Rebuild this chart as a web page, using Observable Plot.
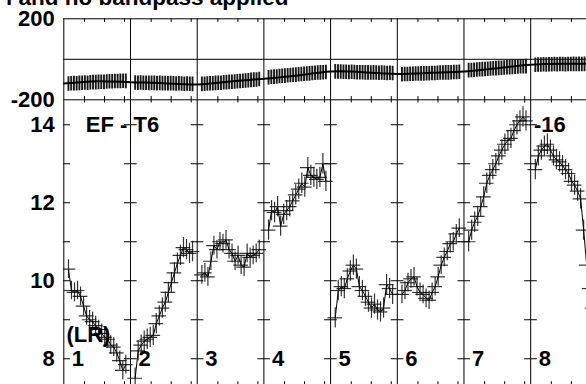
<!DOCTYPE html>
<html><head><meta charset="utf-8">
<script src="https://cdn.jsdelivr.net/npm/d3@7"></script>
<script src="https://cdn.jsdelivr.net/npm/@observablehq/plot@0.6"></script>
<style>
body{margin:0;width:586px;height:384px;overflow:hidden;position:relative;background:#fff;font-family:"Liberation Sans",Arial,sans-serif;}
#title{position:absolute;left:6px;top:-13px;font-weight:bold;font-size:22.5px;line-height:22px;white-space:nowrap;color:#000;}
.layer{position:absolute;left:0;top:0;}
</style></head><body>
<div id="title">l and no bandpass applied</div>
<div id="top" class="layer"></div>
<div id="bot" class="layer"></div>
<script>
// ---- data ----
const boundaries = [0, 1, 2, 3, 4, 5, 6, 7];
const segmentLabels = ["1", "2", "3", "4", "5", "6", "7", "8"];
const topTicks = [200, -200];
const topTickLabels = ["200", "-200"];
const botTicks = [8, 10, 12, 14];
const botMinorTicks = [8, 9, 10, 11, 12, 13, 14];
const minorOffsets = [0.31, 0.61, 0.91];

// bottom panel (EF - T6) values, 20 samples per segment
const ef1 = [10.3, 9.75, 9.7, 9.75, 9.6, 9.35, 9.1, 9.0, 8.95, 8.85, 8.75, 8.65, 8.55, 8.5, 8.35, 8.3, 8.15, 7.95, 7.7, 7.85];
const ef2 = [7.5, 8.2, 8.35, 8.45, 8.5, 8.55, 8.6, 8.9, 9.1, 9.3, 9.45, 9.7, 9.95, 10.2, 10.45, 10.65, 10.85, 10.8, 10.7, 10.75];
const ef3 = [10.15, 10.2, 10.1, 10.5, 10.9, 10.8, 11.0, 10.95, 11.05, 10.8, 10.7, 10.5, 10.65, 10.4, 10.35, 10.7, 10.6, 10.65, 10.7, 10.8];
const ef4 = [11.3, 11.8, 11.75, 11.9, 11.4, 11.7, 11.8, 11.9, 12.05, 12.2, 12.35, 12.5, 12.4, 12.9, 12.7, 12.65, 12.6, 12.65, 13.0, 12.55];
const ef5 = [9.05, 9.75, 9.85, 9.8, 10.05, 10.25, 10.4, 10.3, 9.85, 9.75, 9.6, 9.45, 9.3, 9.4, 9.25, 9.2, 9.3, 9.9, 9.8, 9.65];
const ef6 = [9.65, 9.75, 9.95, 10.05, 10.1, 9.85, 9.7, 9.65, 9.55, 9.5, 9.7, 9.85, 10.1, 10.4, 10.6, 10.75, 10.95, 11.0, 11.2, 11.35];
const ef7 = [11.0, 11.3, 11.5, 11.65, 11.9, 12.15, 12.5, 12.7, 12.85, 13.0, 13.2, 13.35, 13.5, 13.6, 13.65, 13.85, 14.0, 14.1, 14.2, 14.1];
const ef8 = [12.85, 13.2, 13.35, 13.45, 13.5, 13.35, 13.2, 13.1, 13.05, 12.95, 12.85, 12.75, 12.55, 12.45, 12.3, 12.1, 11.3, 10.4, 9.8, 9.3];
// vertical error sizes per segment
const efErr = [0.24, 0.26, 0.24, 0.26, 0.26, 0.24, 0.26, 0.26];

// top panel values, 22 samples per segment
const ph1 = [-122,-121,-120,-121,-119,-118,-117,-118,-116,-115,-115,-114,-113,-114,-112,-111,-111,-110,-110,-109,-108,-109];
const ph2 = [-117,-118,-117,-118,-118,-119,-118,-119,-120,-119,-120,-120,-121,-120,-121,-122,-121,-122,-123,-122,-123,-124];
const ph3 = [-124,-123,-122,-121,-121,-119,-118,-118,-116,-115,-114,-113,-112,-111,-110,-108,-107,-106,-104,-103,-102,-100];
const ph4 = [-91,-89,-88,-87,-85,-84,-83,-81,-80,-79,-78,-76,-75,-74,-73,-72,-70,-69,-68,-67,-66,-65];
const ph5 = [-62,-63,-63,-64,-64,-65,-64,-65,-66,-66,-66,-67,-67,-68,-67,-68,-69,-68,-69,-70,-69,-70];
const ph6 = [-76,-75,-75,-74,-74,-73,-73,-72,-72,-71,-71,-70,-70,-69,-68,-68,-67,-67,-66,-65,-65,-64];
const ph7 = [-56,-55,-54,-53,-52,-51,-50,-49,-48,-47,-46,-45,-44,-43,-42,-41,-40,-39,-38,-37,-37,-36];
const ph8 = [-29,-28,-28,-27,-28,-27,-27,-26,-27,-26,-26,-27,-26,-26,-25,-26,-25,-26,-25,-25,-26,-25];
// smooth fit line in top panel (at half-segment steps)
const fitX = [0, 0.5, 1, 1.5, 2, 2.5, 3, 3.5, 4, 4.5, 5, 5.5, 6, 6.5, 7, 7.5, 7.84];
const fitY = [-120, -108, -113, -118, -124, -110, -96, -80, -60, -64, -72, -67, -60, -44, -27, -22, -22];

// ---- build tables ----
const efSegs = [ef1, ef2, ef3, ef4, ef5, ef6, ef7, ef8];
const phSegs = [ph1, ph2, ph3, ph4, ph5, ph6, ph7, ph8];
const pts = efSegs.flatMap((arr, s) => arr.map((v, i) => ({seg: s, x: s + 0.07 + i * 0.86 / (arr.length - 1), y: v, e: efErr[s]})));
const bars = phSegs.flatMap((arr, s) => arr.map((v, i) => ({seg: s, x: s + 0.07 + i * 0.86 / (arr.length - 1), y: v})));
const fit = fitX.map((x, i) => ({x, y: fitY[i]}));
const xMax = 7.837;
const minorX = boundaries.flatMap(b => minorOffsets.map(o => b + o)).filter(x => x < xMax);
const crossTicks = boundaries.flatMap(b => botMinorTicks.map(y => ({b, y})));

const W = 586, H = 384, ML = 63.3, TOPY = 18.3, MID = 99.3;
const font = {fontFamily: "Liberation Sans, Arial, sans-serif", fontWeight: "bold", fontSize: 22, fill: "black"};
const common = {width: W, height: H, marginLeft: ML, marginRight: 0,
  style: {background: "transparent", overflow: "visible"},
  x: {domain: [0, xMax], axis: null}};

const topPlot = Plot.plot({
  ...common, marginTop: TOPY, marginBottom: H - MID,
  y: {domain: [-200, 200], axis: null},
  marks: [
    Plot.ruleY([200, 0, -200], {stroke: "black", strokeWidth: 1}),
    Plot.ruleX(boundaries, {stroke: "black", strokeWidth: 1}),
    Plot.ruleX(minorX, {y1: 200, y2: 182, stroke: "black", strokeWidth: 1}),
    Plot.ruleX(minorX, {y1: -216, y2: -184, stroke: "black", strokeWidth: 1}),
    Plot.ruleX(bars, {x: "x", y1: d => d.y - 36, y2: d => d.y + 36, stroke: "#1a1a1a", strokeWidth: 1.9, clip: true}),
    Plot.line(fit, {x: "x", y: "y", curve: "natural", stroke: "black", strokeWidth: 2, clip: true}),
    Plot.text(topTicks, {x: 0, y: d => d, text: (d, i) => topTickLabels[i], textAnchor: "end", dx: -9, ...font})
  ]
});

const botPlot = Plot.plot({
  ...common, marginTop: MID, marginBottom: 0,
  y: {domain: [7.34, 14.64], axis: null},
  marks: [
    Plot.ruleX(boundaries, {stroke: "black", strokeWidth: 1}),
    Plot.ruleY(crossTicks, {y: "y", x1: d => d.b === 0 ? 0 : d.b - 0.09, x2: d => d.b + 0.1, stroke: "black", strokeWidth: 1}),
    Plot.ruleX(minorX, {y1: 7.34, y2: 7.41, stroke: "black", strokeWidth: 1}),
    Plot.ruleY(pts, {y: "y", x1: d => d.x - 0.11, x2: d => d.x + 0.11, stroke: "#111", strokeWidth: 1.2, strokeOpacity: 0.85, clip: true}),
    Plot.ruleX(pts, {x: "x", y1: d => d.y - d.e, y2: d => d.y + d.e, stroke: "#111", strokeWidth: 1.2, strokeOpacity: 0.85, clip: true}),
    Plot.line(pts, {x: "x", y: "y", z: "seg", stroke: "black", strokeWidth: 1, clip: true}),
    Plot.text(botTicks, {x: 0, y: d => d, text: d => String(d), textAnchor: "end", dx: -9, ...font}),
    Plot.text(boundaries, {x: d => d, y: 8, text: (d, i) => segmentLabels[i], textAnchor: "start", dx: 8, ...font}),
    Plot.text(["EF - T6"], {x: 0.33, y: 14, text: d => d, textAnchor: "start", ...font}),
    Plot.text(["-16"], {x: 7.05, y: 14, text: d => d, textAnchor: "start", ...font}),
    Plot.text(["(LR)"], {x: 0.04, y: 8.62, text: d => d, textAnchor: "start", ...font})
  ]
});

document.getElementById("top").appendChild(topPlot);
document.getElementById("bot").appendChild(botPlot);
</script>
</body></html>
